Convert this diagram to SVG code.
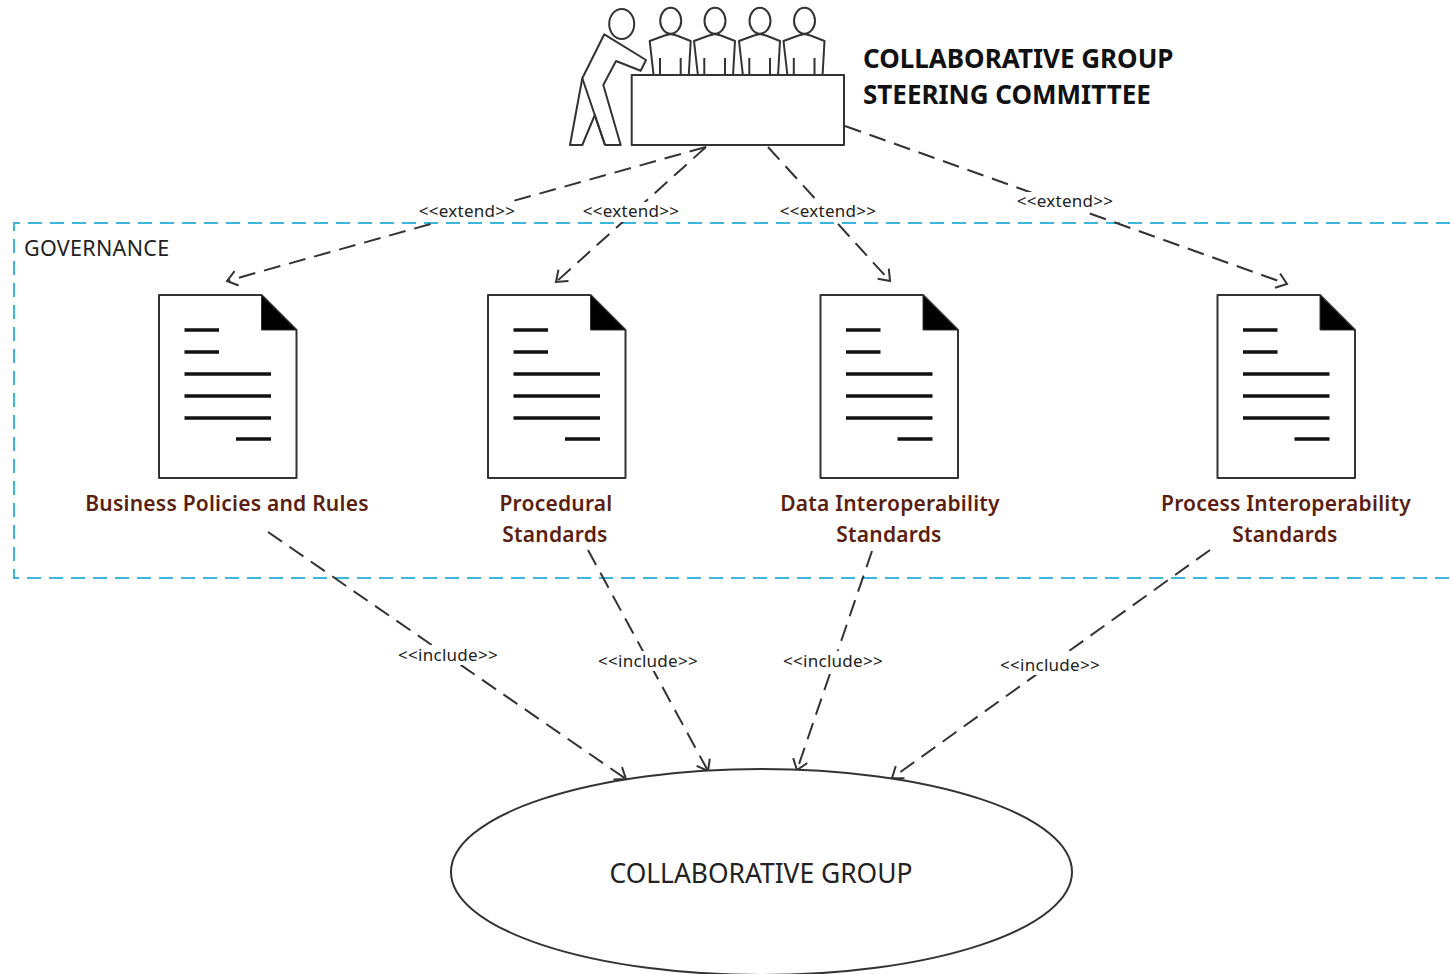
<svg xmlns="http://www.w3.org/2000/svg" xmlns:xlink="http://www.w3.org/1999/xlink" width="1450" height="974" viewBox="0 0 1450 974">
<style>
text{font-family:"Noto Sans","Open Sans","DejaVu Sans",sans-serif}
.o{fill:#fff;stroke:#333;stroke-width:2;stroke-linejoin:round}
.l{fill:none;stroke:#333;stroke-width:2}
.t{fill:none;stroke:#111;stroke-width:3.500}
.c{fill:none;stroke:#333;stroke-width:2;stroke-dasharray:17 9}
.bg{fill:#fff}
.s{font-size:17px;letter-spacing:.28px;fill:#222;text-anchor:middle}
.d{font-size:21px;letter-spacing:.22px;font-weight:600;fill:#5a1f10;text-anchor:middle}
.h{font-size:26px;font-weight:700;fill:#111}
</style>
<defs>
<marker id="a" markerUnits="userSpaceOnUse" markerWidth="24" markerHeight="24" refX="17" refY="12" orient="auto"><path d="M7 4.500L17 12L7 19.500" fill="none" stroke="#333" stroke-width="2"/></marker>
<g id="doc">
<path class="o" d="M159 295H261.500L296.500 330V478H159Z"/>
<path d="M261.500 295L296.500 330H261.500Z" fill="#000" stroke="#333"/>
<path class="t" d="M184.500 330H219M184.500 352H219M184.500 374H271M184.500 396H271M184.500 418H271M236 439H271"/>
</g>
<g id="sit">
<ellipse class="o" cx="0" cy="20.700" rx="10.500" ry="13"/>
<path class="o" d="M-21 41L-6 35.500L0 34L6 35.500L20 41L18 76H-17Z"/>
<path class="l" d="M-10.700 58V76M10 58V76"/>
</g>
</defs>
<g id="governance">
<path d="M1450 223H14V578H1450" fill="none" stroke="#3cb6dc" stroke-width="2" stroke-dasharray="14 8"/>
<text x="24" y="256" font-size="21.500" letter-spacing=".3" fill="#222">GOVERNANCE</text>
</g>
<g id="connectors">
<path class="c" marker-end="url(#a)" d="M706 147L227 281"/>
<path class="c" marker-end="url(#a)" d="M706 147L556 282"/>
<path class="c" marker-end="url(#a)" d="M768 147L890 281"/>
<path class="c" marker-end="url(#a)" d="M845 126L1287 284"/>
<path class="c" marker-end="url(#a)" d="M268 532L626 779"/>
<path class="c" marker-end="url(#a)" d="M588 550L708 771"/>
<path class="c" marker-end="url(#a)" d="M872 551L797 770"/>
<path class="c" marker-end="url(#a)" d="M1210 550L892 778"/>
<g id="connector-labels">
<rect class="bg" x="418" y="202" width="98" height="20"/><text class="s" x="467" y="217">&lt;&lt;extend&gt;&gt;</text>
<rect class="bg" x="582" y="202" width="98" height="20"/><text class="s" x="631" y="217">&lt;&lt;extend&gt;&gt;</text>
<rect class="bg" x="779" y="202" width="98" height="20"/><text class="s" x="828" y="217">&lt;&lt;extend&gt;&gt;</text>
<rect class="bg" x="1016" y="192" width="98" height="20"/><text class="s" x="1065" y="207">&lt;&lt;extend&gt;&gt;</text>
<rect class="bg" x="398" y="645" width="100" height="20"/><text class="s" x="448" y="661">&lt;&lt;include&gt;&gt;</text>
<rect class="bg" x="598" y="651" width="100" height="20"/><text class="s" x="648" y="667">&lt;&lt;include&gt;&gt;</text>
<rect class="bg" x="783" y="651" width="100" height="20"/><text class="s" x="833" y="667">&lt;&lt;include&gt;&gt;</text>
<rect class="bg" x="1000" y="655" width="100" height="20"/><text class="s" x="1050" y="671">&lt;&lt;include&gt;&gt;</text>
</g>
</g>
<g id="steering-committee">
<ellipse class="o" cx="621.700" cy="24" rx="12.500" ry="15"/>
<path class="o" d="M604.300 34.300L646 60L640.700 70.700L616 61L603.300 85L620.700 145H605L594.800 115L582.300 145H570L582.300 78.300Z"/>
<path class="l" d="M582.300 78.300L605 145"/>
<use xlink:href="#sit" href="#sit" x="670.700"/>
<use xlink:href="#sit" href="#sit" x="715"/>
<use xlink:href="#sit" href="#sit" x="760"/>
<use xlink:href="#sit" href="#sit" x="804.500"/>
<rect class="o" x="631.700" y="75" width="212.300" height="70"/>
<text class="h" x="863" y="68">COLLABORATIVE GROUP</text>
<text class="h" x="863" y="104">STEERING COMMITTEE</text>
</g>
<g id="doc-business">
<use xlink:href="#doc" href="#doc"/>
<text class="d" x="227" y="511">Business Policies and Rules</text>
</g>
<g id="doc-procedural">
<use xlink:href="#doc" href="#doc" x="329"/>
<text class="d" x="556" y="511">Procedural</text><text class="d" x="555" y="542">Standards</text>
</g>
<g id="doc-data">
<use xlink:href="#doc" href="#doc" x="661.500"/>
<text class="d" x="890" y="511">Data Interoperability</text><text class="d" x="889" y="542">Standards</text>
</g>
<g id="doc-process">
<use xlink:href="#doc" href="#doc" x="1058.500"/>
<text class="d" x="1286" y="511">Process Interoperability</text><text class="d" x="1285" y="542">Standards</text>
</g>
<g id="collaborative-group">
<ellipse class="o" cx="761.500" cy="872" rx="310.500" ry="103"/>
<text x="761" y="883" font-size="26.400" fill="#222" text-anchor="middle">COLLABORATIVE GROUP</text>
</g>
</svg>
